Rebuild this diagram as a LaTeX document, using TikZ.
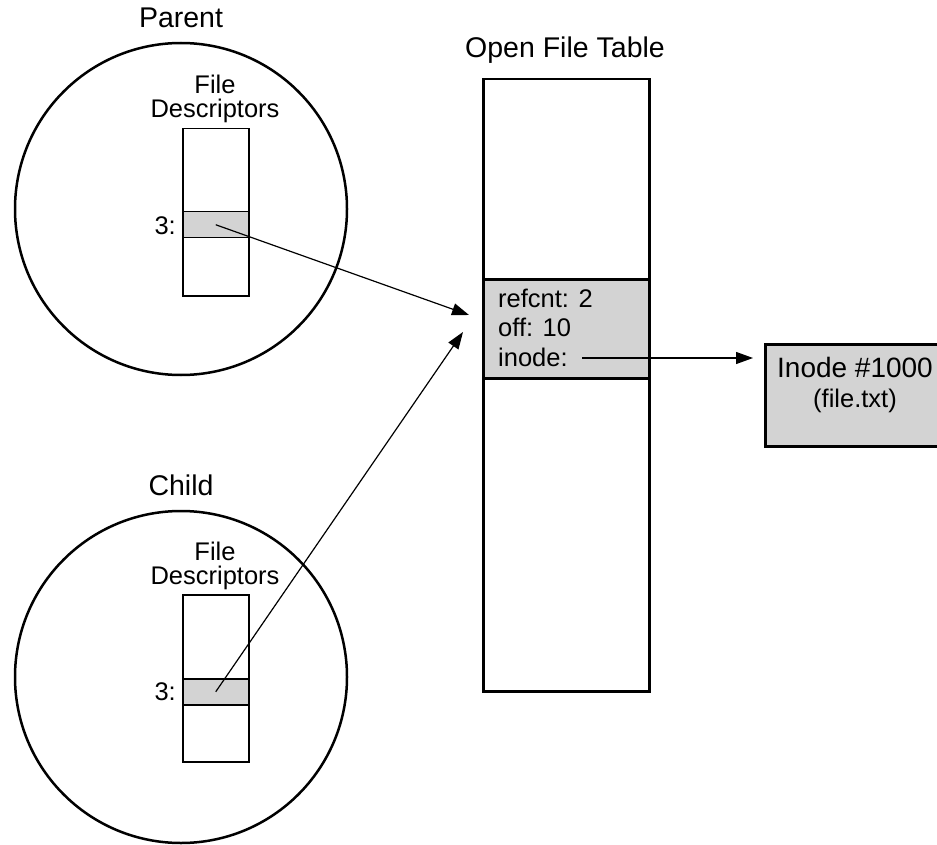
\documentclass[tikz,border=0pt]{standalone}
\usepackage{fontspec}
\setmainfont{Liberation Sans}
\usetikzlibrary{arrows.meta}
\definecolor{cellgray}{RGB}{211,211,211}
\begin{document}
\begin{tikzpicture}[x=1pt,y=-1pt,
  txt/.style={inner sep=0, font=\fontsize{25.5}{25.5}\selectfont},
  title/.style={inner sep=0, font=\fontsize{28.5}{28.5}\selectfont},
  proc/.style={draw, circle, line width=2.5pt, minimum size=332pt, inner sep=0},
  fdbox/.style={draw, line width=1.5pt, minimum width=66pt, minimum height=167pt, inner sep=0, anchor=north west},
  fdrow/.style={draw, fill=cellgray, line width=1.5pt, minimum width=66pt, minimum height=26pt, inner sep=0, anchor=north west},
  bigbox/.style={draw, line width=2.5pt, inner sep=0, anchor=north west},
  ptr/.style={-{Triangle[length=17pt,width=12pt]}, line width=1.2pt}
]
\useasboundingbox (0,0) rectangle (937,845);

% Parent process
\node[proc] (parent) at (181,209) {};
\node[title, anchor=base] (plabel) at (181,28) {Parent};
\node[txt, anchor=base] (pfile) at (215,94) {File};
\node[txt, anchor=base] (pdesc) at (215,118) {Descriptors};
\node[fdbox] (pfd) at (182,128) {};
\node[fdrow] (prow) at (182,211) {};
\node[txt, anchor=base east] (p3) at (176,234) {3:};

% Child process
\node[proc] (child) at (181,677) {};
\node[title, anchor=base] (clabel) at (181,495) {Child};
\node[txt, anchor=base] (cfile) at (215,560) {File};
\node[txt, anchor=base] (cdesc) at (215,584) {Descriptors};
\node[fdbox] (cfd) at (182,594) {};
\node[fdrow] (crow) at (182,678) {};
\node[txt, anchor=base east] (c3) at (176,700) {3:};

% Open file table
\node[title, anchor=base] (otitle) at (565,58) {Open File Table};
\node[bigbox, minimum width=166pt, minimum height=612pt] (oft) at (482,78) {};
\node[bigbox, fill=cellgray, minimum width=166pt, minimum height=99pt] (entry) at (482,278) {};
\node[txt, anchor=base west] (refcnt) at (498,307) {refcnt: 2};
\node[txt, anchor=base west] (off) at (498,336) {off: 10};
\node[txt, anchor=base west] (inodelbl) at (498,366) {inode:};

% Inode
\node[bigbox, fill=cellgray, minimum width=190pt, minimum height=102pt] (inode) at (764,343) {};
\node[inner sep=0, font=\fontsize{28}{28}\selectfont, anchor=base] (inodenum) at (855,377) {Inode \#1000};
\node[txt, anchor=base] (fname) at (855,407) {(file.txt)};

% Connectors
\coordinate (ptip) at (469,315);
\coordinate (ctip) at (463,332);
\coordinate (istart) at (582,358);
\draw[ptr] (prow.center) -- (ptip);
\draw[ptr] (crow.center) -- (ctip);
\draw[ptr, shorten >=11pt] (istart) -- (inode.west |- istart);
\end{tikzpicture}
\end{document}
